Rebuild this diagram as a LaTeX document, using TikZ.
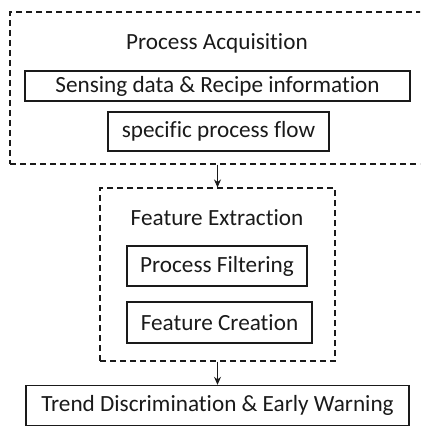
\documentclass[tikz,border=0pt]{standalone}
\usepackage{fontspec}
\setmainfont[Ligatures=CommonOff]{Carlito}
\usepackage{tikz}
\usetikzlibrary{arrows.meta,positioning,calc}
\definecolor{ink}{HTML}{1A1A1A}
\tikzset{stage/.style={draw=ink,dashed,dash pattern=on 6pt off 4pt,line width=1.1pt,inner sep=0pt},
  unit/.style={draw=ink,line width=1.4pt,inner sep=0pt,font=\fontsize{23.2}{27}\selectfont,text=ink},
  title/.style={font=\fontsize{23.2}{27}\selectfont,text=ink},
  arr/.style={draw=ink,line width=.9pt,-{Stealth[length=8pt,width=7pt]}}}

\begin{document}
\begin{tikzpicture}[x=1pt,y=-1pt]
\useasboundingbox (0,0) rectangle (420,427);
\clip (0,0) rectangle (420,427);
% first stage
\node[stage,minimum width=420pt,minimum height=152pt] (acq) at (220,88) {};
\node[title] (acqt) at (217,43) {Process Acquisition};
\node[unit,minimum width=385pt,minimum height=30pt] (sens) at (217.5,86) {Sensing data \& Recipe information};
\node[unit,minimum width=221pt,minimum height=39pt] (flow) at (218.5,131.5) {specific process flow};
% second stage
\node[stage,minimum width=235pt,minimum height=173pt] (feat) at (217.5,274.5) {};
\node[title] (featt) at (217,218) {Feature Extraction};
\node[unit,minimum width=180pt,minimum height=40pt] (filt) at (217,266) {Process Filtering};
\node[unit,minimum width=185pt,minimum height=41pt] (crea) at (219.5,322.5) {Feature Creation};
% result
\node[unit,minimum width=383pt,minimum height=40pt] (warn) at (217.5,405.5) {Trend Discrimination \& Early Warning};
\draw[arr] (acq.south -| feat.north) -- (feat.north);
\draw[arr] (feat.south) -- (warn.north);
\end{tikzpicture}
\end{document}
